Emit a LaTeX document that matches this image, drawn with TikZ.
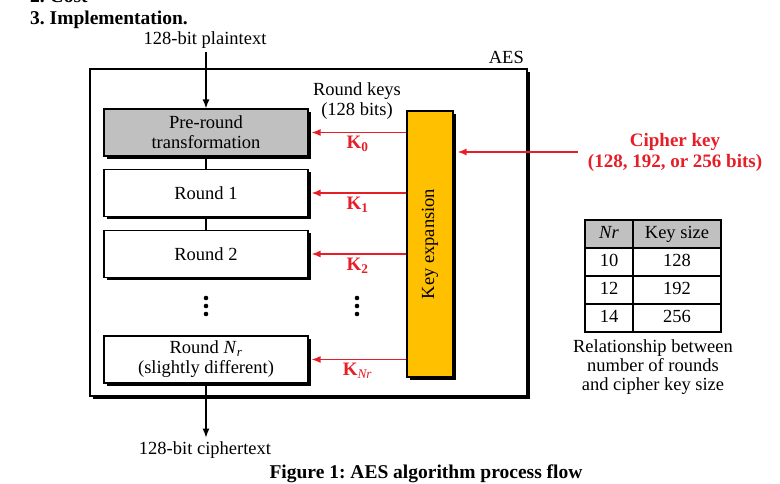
\documentclass[tikz,border=0pt]{standalone}
\usepackage{fontspec}
\setmainfont{Liberation Serif}
\usepackage{tikz}
\frenchspacing
\definecolor{keyred}{RGB}{230,30,40}
\definecolor{expandorange}{RGB}{255,192,0}
\definecolor{preroundgray}{RGB}{192,192,192}
\usetikzlibrary{arrows.meta, shadows, matrix, positioning}

\begin{document}
\begin{tikzpicture}[x=1pt, y=-1pt,
				>={Latex[length=9pt,width=7pt]},   %Pfeilspitzen
				font=\fontsize{18.5}{20}\selectfont,
				boxshadow/.style={general shadow={fill=black, shadow xshift=2.8pt, shadow yshift=-2.8pt}},
				aesbox/.style={draw, line width=2pt, fill=white, minimum width=437pt, minimum height=327pt, boxshadow},
				roundbox/.style={draw, line width=1.2pt, fill=white, minimum width=204pt, minimum height=47pt, align=center, boxshadow},
				prebox/.style={roundbox, fill=preroundgray, general shadow={}},
				keybox/.style={draw, line width=1.2pt, fill=expandorange, minimum width=46pt, minimum height=266pt, boxshadow},
				flow/.style={->, line width=1.4pt},
				keyarrow/.style={->, keyred, line width=1.3pt, shorten >=3pt},
				klabel/.style={below, text=keyred, font=\fontsize{19}{21}\selectfont\bfseries},
				titel/.style={font=\fontsize{19.5}{22}\selectfont\bfseries}]
				%Bildbereich
				\useasboundingbox (0,0) rectangle (780,484);
				%Ueberschriften
				\node[titel, anchor=base west, inner sep=0pt] (cost) at (30,3) {2. Cost};
				\node[titel, anchor=base west, inner sep=0pt] (impl) at (30,25) {3. Implementation.};
				%AES Kasten
				\node[aesbox] (aes) at (308.5,232.5) {};
				\node[anchor=base east, inner sep=0pt] (aeslabel) at (524,64) {AES};
				%Runden
				\node[prebox] (pre) at (206,132.5) {Pre-round\\transformation};
				\node[roundbox] (r1) at (206,193) {Round 1};
				\node[roundbox] (r2) at (206,254) {Round 2};
				\node[roundbox] (rnr) at (206,359.5) {Round \textit{N}\textsubscript{\textit{r}}\\(slightly different)};
				\foreach \y in {298,306,314} \fill (206,\y) circle (2.3pt);
				%Ein- und Ausgabe
				\node[anchor=base] (plain) at (205,45) {128-bit plaintext};
				\node[anchor=base] (ciph) at (205,454) {128-bit ciphertext};
				\draw[flow] (plain.south -| pre.north) -- (pre.north);
				\draw[line width=1.4pt] (pre) -- (r1);
				\draw[line width=1.4pt] (r1) -- (r2);
				\draw[flow] (rnr.south) -- (ciph.north -| rnr.south);
				%Schluesselexpansion
				\node[keybox] (keyexp) at (430,244) {};
				\node[rotate=90] (keytext) at (keyexp.center) {Key expansion};
				\node[align=center] (rkeys) at (357,101) {Round keys\\(128 bits)};
				\foreach \b/\k in {pre/\textbf{0}, r1/\textbf{1}, r2/\textbf{2}, rnr/\textit{\mdseries Nr}}
					\draw[keyarrow] (\b.east -| keyexp.west) -- node[klabel] {K\textsubscript{\k}} (\b.east);
				\foreach \y in {298,306,314} \fill (357,\y) circle (2.3pt);
				%Chiffrierschluessel
				\node[align=center, text=keyred, inner xsep=10pt, font=\fontsize{19}{21}\selectfont\bfseries] (ck) at (675,152) {Cipher key\\(128, 192, or 256 bits)};
				\draw[keyarrow, shorten >=4pt] (ck.west) -- (ck.west -| keyexp.east);
				%Tabelle
				\matrix (nrtab) [matrix of nodes, row sep=-1.2pt, column sep=-1.2pt,
					nodes={draw, line width=1.2pt, minimum height=28pt, text height=13pt, text depth=4pt, anchor=center},
					column 1/.style={nodes={minimum width=48pt}},
					column 2/.style={nodes={minimum width=88pt}},
					row 1/.style={nodes={fill=preroundgray}}] at (653,276) {
					\textit{Nr} & Key size \\
					10 & 128 \\
					12 & 192 \\
					14 & 256 \\
				};
				\node[align=center, font=\fontsize{18.5}{19}\selectfont] (tabcap) at (653,367) {Relationship between\\number of rounds\\and cipher key size};
				%Bildunterschrift
				\node[titel, anchor=base, inner sep=0pt] (figcap) at (426,478) {Figure 1: AES algorithm process flow};
			\end{tikzpicture}
\end{document}
